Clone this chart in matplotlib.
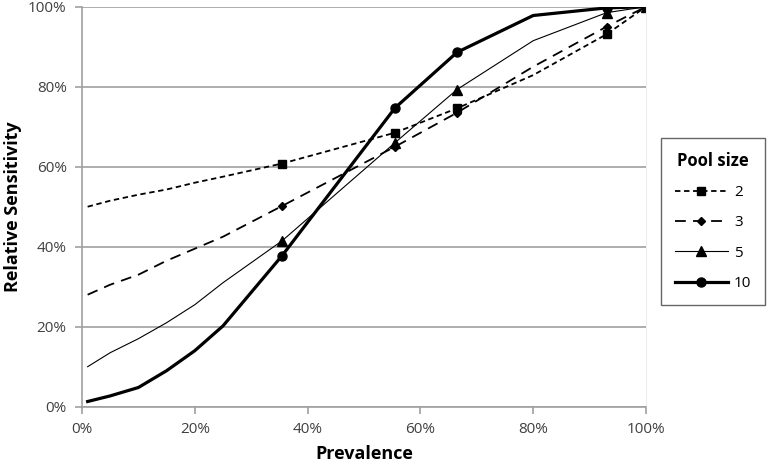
import matplotlib
matplotlib.use("Agg")
import matplotlib.pyplot as plt
from matplotlib.ticker import FuncFormatter

plt.rcParams['font.family'] = ['Open Sans', 'DejaVu Sans']

# prevalence (%) shared by all series
prevalence = [1, 5, 10, 15, 20, 25, 35.5, 55.5, 66.5, 80, 93, 100]

# relative sensitivity (%) per pool size
sens_2 = [50, 51.5, 53, 54.3, 56, 57.5, 60.8, 68.5, 74.6, 82.9, 93.1, 100]
sens_3 = [28, 30.5, 33, 36.5, 39.5, 42.5, 50.2, 65, 73.5, 85, 95, 100]
sens_5 = [10, 13.5, 17, 21, 25.5, 31, 41.5, 66, 79.3, 91.5, 98.5, 100]
sens_10 = [1.3, 2.7, 4.8, 9, 14, 20.2, 37.8, 74.7, 88.6, 97.8, 99.7, 100]

pool_labels = ["2", "3", "5", "10"]
x_ticks = [0, 20, 40, 60, 80, 100]
y_ticks = [0, 20, 40, 60, 80, 100]

marked = [6, 7, 8, 10, 11]

fig = plt.figure(figsize=(7.69, 4.66), dpi=100)
ax = fig.add_axes([82 / 769, 1 - 406.7 / 466, (646 - 82) / 769, (406.7 - 6.7) / 466])

ax.plot(prevalence, sens_2, color='black', lw=1.3, dashes=(3, 2), marker='s', ms=6,
        markevery=marked, label=pool_labels[0])
ax.plot(prevalence, sens_3, color='black', lw=1.3, dashes=(6, 4), marker='D', ms=4.5,
        markevery=marked, label=pool_labels[1])
ax.plot(prevalence, sens_5, color='black', lw=0.8, marker='^', ms=6.5,
        markevery=marked, label=pool_labels[2])
ax.plot(prevalence, sens_10, color='black', lw=2.3, marker='o', ms=6.5,
        markevery=marked, label=pool_labels[3])

ax.set_xlim(0, 100)
ax.set_ylim(0, 100)
ax.set_xticks(x_ticks)
ax.set_yticks(y_ticks)
pct = FuncFormatter(lambda v, p: f"{v:.0f}%")
ax.xaxis.set_major_formatter(pct)
ax.yaxis.set_major_formatter(pct)

ax.grid(axis='y', color='#a0a0a0', lw=1.2)
ax.set_axisbelow(True)
ax.spines['top'].set_visible(False)
ax.spines['right'].set_color('#eeeeee')
ax.spines['left'].set_color('#a0a0a0')
ax.spines['bottom'].set_color('#a0a0a0')
ax.spines['left'].set_linewidth(1.2)
ax.spines['bottom'].set_linewidth(1.2)
ax.tick_params(axis='both', direction='out', length=5, color='#a0a0a0', width=1.2,
               labelsize=11, labelcolor='#404040', pad=6)

ax.set_xlabel("Prevalence", fontsize=13, fontweight='bold', labelpad=6)
ax.set_ylabel("Relative Sensitivity", fontsize=13, fontweight='bold')
ax.yaxis.set_label_coords(-0.106, 0.5)

leg = fig.legend(title="Pool size", loc='center', bbox_to_anchor=(713 / 769, 1 - 221.5 / 466),
                 frameon=True, fancybox=False, edgecolor='#404040', fontsize=11,
                 title_fontproperties={'weight': 'bold', 'size': 12},
                 handlelength=3.5, labelspacing=1.0, borderpad=0.9, handletextpad=0.4)
leg.get_frame().set_linewidth(1.0)

fig.savefig("out.png", dpi=100)
